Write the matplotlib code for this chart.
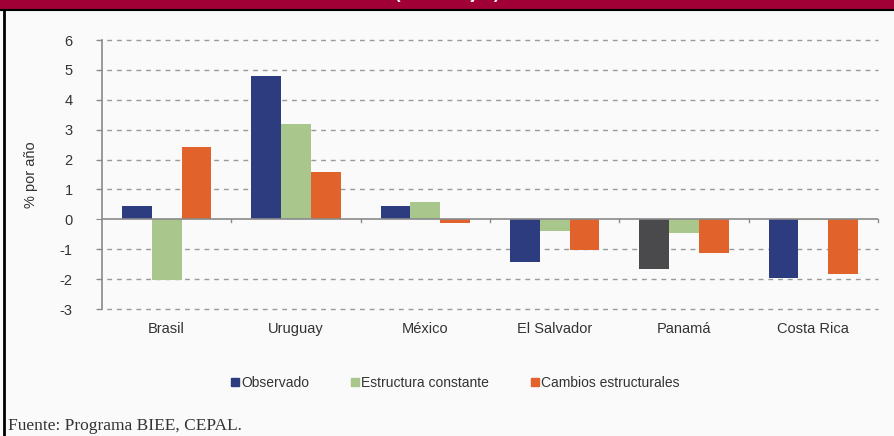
import matplotlib
matplotlib.use("Agg")
import matplotlib.pyplot as plt
from matplotlib.patches import Rectangle
from matplotlib.lines import Line2D
import numpy as np

categories = ["Brasil", "Uruguay", "México", "El Salvador", "Panamá", "Costa Rica"]
observado = [0.43, 4.78, 0.43, -1.42, -1.66, -1.97]
estructura_constante = [-2.03, 3.2, 0.58, -0.4, -0.47, -0.03]
cambios_estructurales = [2.43, 1.6, -0.12, -1.03, -1.13, -1.84]
series_names = ["Observado", "Estructura constante", "Cambios estructurales"]
yticks = [-3, -2, -1, 0, 1, 2, 3, 4, 5, 6]

c_blue = "#2d3c7e"
c_green = "#a9c68c"
c_orange = "#e1632b"
c_gray = "#4a4a4c"
obs_colors = [c_blue, c_blue, c_blue, c_blue, c_gray, c_blue]

plt.rcParams['font.family'] = ['Liberation Sans', 'DejaVu Sans']

fig = plt.figure(figsize=(8.94, 4.36), dpi=100)
fig.patch.set_facecolor("#fafafa")

# top band and frame
fig.patches.append(Rectangle((0, 1 - 10/436), 1, 10/436, transform=fig.transFigure,
                             facecolor="#a00035", edgecolor="none", zorder=0))
fig.add_artist(Line2D([0, 1], [1 - 10.5/436, 1 - 10.5/436], transform=fig.transFigure,
                      color="black", lw=1.5))
fig.add_artist(Line2D([4/894, 4/894], [0, 1 - 10/436], transform=fig.transFigure,
                      color="black", lw=2))
fig.text(0.5, 1 + 5/436, "(Porcentajes)", color="white", ha="center", va="center",
         fontsize=12, fontweight="bold")

ax = fig.add_axes([102/894, 1 - 309/436, 776/894, 269/436])
ax.set_facecolor("none")

x = np.arange(len(categories))
w = 0.23
ax.bar(x - w, observado, w, color=obs_colors, zorder=3)
ax.bar(x, estructura_constante, w, color=c_green, zorder=3)
ax.bar(x + w, cambios_estructurales, w, color=c_orange, zorder=3)

ax.set_xlim(-0.5, len(categories) - 0.5)
ax.set_ylim(-3, 6)
ax.set_yticks(yticks)
ax.set_yticklabels([str(t) for t in yticks], fontsize=10.5, color="#333333")

for t in yticks:
    if t != 0:
        ax.axhline(t, color="#9a9a9a", lw=1, ls=(0, (3.5, 3.5)), zorder=1, clip_on=False,
                   xmin=-0.006)
ax.axhline(0, color="#8a8a8a", lw=1.2, zorder=4)
for b in np.arange(0.5, len(categories) - 0.5, 1.0):
    ax.plot([b, b], [0, -0.1], color="#8a8a8a", lw=1, zorder=4)
ax.plot([len(categories) - 0.5] * 2, [0, -0.1], color="#8a8a8a", lw=1, zorder=4, clip_on=False)

for s in ["top", "right", "bottom"]:
    ax.spines[s].set_visible(False)
ax.spines["left"].set_color("#8a8a8a")
ax.spines["left"].set_linewidth(1.2)
ax.tick_params(axis="y", direction="out", length=4, color="#8a8a8a", pad=17)
ax.tick_params(axis="x", length=0, pad=9)
ax.set_xticks(x)
ax.set_xticklabels(categories, fontsize=10.5, color="#333333")
ax.set_ylabel("% por año", fontsize=10.5, color="#333333", labelpad=16)

handles = [Line2D([], [], marker="s", ls="none", color=c, markersize=5.5)
           for c in [c_blue, c_green, c_orange]]
fig.legend(handles, series_names, loc="center", bbox_to_anchor=(455/894, 1 - 383/436),
           ncol=3, frameon=False, fontsize=10, handletextpad=0.05, columnspacing=3.0,
           handlelength=0.7, labelcolor="#333333")

fig.text(8/894, 1 - 426/436, "Fuente: Programa BIEE, CEPAL.", family="Liberation Serif",
         fontsize=12.5, color="#333333", ha="left", va="center")

fig.savefig("out.png", dpi=100, facecolor=fig.get_facecolor())
